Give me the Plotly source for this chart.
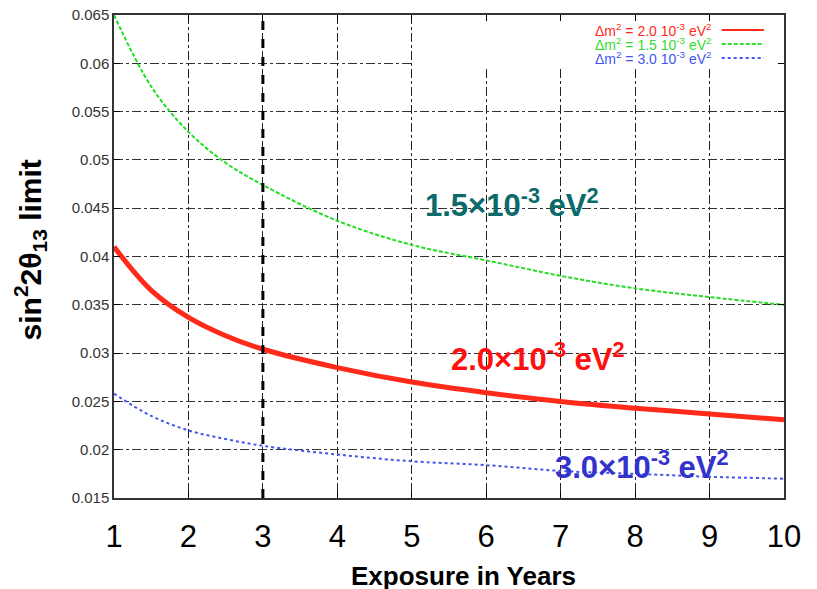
import plotly.graph_objects as go

# exposure (years) and sin^2 2theta13 limits
years = [1, 1.5, 2, 2.5, 3, 4, 5, 6, 7, 8, 9, 10]
limit_2p0 = [0.0410, 0.0365, 0.0337, 0.0318, 0.0304, 0.0285, 0.0270, 0.0259, 0.0250, 0.0243, 0.0237, 0.0231]
limit_1p5 = [0.0650, 0.0576, 0.0529, 0.0497, 0.0474, 0.0437, 0.0412, 0.0396, 0.0380, 0.0367, 0.0358, 0.0350]
limit_3p0 = [0.0258, 0.0235, 0.0220, 0.0211, 0.0204, 0.0195, 0.0188, 0.0184, 0.0178, 0.0175, 0.0172, 0.0170]

x_ticks = list(range(1, 11))
y_tickvals = [0.015, 0.02, 0.025, 0.03, 0.035, 0.04, 0.045, 0.05, 0.055, 0.06, 0.065]
y_ticktext = ['0.015', '0.02', '0.025', '0.03', '0.035', '0.04', '0.045', '0.05', '0.055', '0.06', '0.065']
marker_year = 3

legend_labels = ['Δm<sup>2</sup> = 2.0 10<sup>-3</sup> eV<sup>2</sup>',
                 'Δm<sup>2</sup> = 1.5 10<sup>-3</sup> eV<sup>2</sup>',
                 'Δm<sup>2</sup> = 3.0 10<sup>-3</sup> eV<sup>2</sup>']

FONT = 'Arial, Liberation Sans, sans-serif'
RED = '#ff2a1a'
GREEN = '#22dd22'
BLUE = '#4455ee'

fig = go.Figure()
fig.add_trace(go.Scatter(x=years, y=limit_1p5, mode='lines', line_shape='spline',
                         line=dict(color=GREEN, width=2, dash='4px,2px')))
fig.add_trace(go.Scatter(x=years, y=limit_3p0, mode='lines', line_shape='spline',
                         line=dict(color=BLUE, width=2, dash='dot')))
fig.add_trace(go.Scatter(x=years, y=limit_2p0, mode='lines', line_shape='spline',
                         line=dict(color=RED, width=5)))

# thick dashed marker at 3 years
fig.add_vline(x=marker_year, line=dict(color='black', width=3, dash='dash'))

# white legend box hiding the grid
fig.add_shape(type='rect', xref='x', yref='y', x0=5.02, x1=10, y0=0.0597, y1=0.065,
              fillcolor='white', line_width=0, layer='between')

legend_colors = [RED, '#33dd33', '#4455ee']
legend_dash = ['solid', '4px,2px', 'dot']
legend_y = [0.969, 0.940, 0.911]
for lab, col, dsh, yy in zip(legend_labels, legend_colors, legend_dash, legend_y):
    fig.add_annotation(xref='paper', yref='paper', x=0.895, y=yy, text=lab, showarrow=False,
                       xanchor='right', yanchor='middle', font=dict(family=FONT, size=14, color=col))
    fig.add_shape(type='line', xref='paper', yref='paper', x0=0.907, x1=0.970, y0=yy, y1=yy,
                  line=dict(color=col, width=2, dash=dsh))

# curve labels
fig.add_annotation(x=6.34, y=0.0455, text='<b>1.5×10<sup>-3</sup> eV<sup>2</sup></b>', showarrow=False,
                   font=dict(family=FONT, size=31, color='#0b6b6b'))
fig.add_annotation(x=6.70, y=0.0296, text='<b>2.0×10<sup>-3</sup> eV<sup>2</sup></b>', showarrow=False,
                   font=dict(family=FONT, size=31, color='#ff1010'))
fig.add_annotation(x=8.09, y=0.0184, text='<b>3.0×10<sup>-3</sup> eV<sup>2</sup></b>', showarrow=False,
                   font=dict(family=FONT, size=31, color='#3333cc'))

# axis titles
fig.add_annotation(xref='paper', yref='paper', x=-0.125, y=0.513, textangle=-90, showarrow=False,
                   xanchor='center', yanchor='middle',
                   text='<b>sin<sup>2</sup>2θ<sub>13</sub> limit</b>',
                   font=dict(family=FONT, size=30, color='black'))
fig.add_annotation(xref='paper', yref='paper', x=0.521, y=-0.162, showarrow=False,
                   xanchor='center', yanchor='middle',
                   text='<b>Exposure in Years</b>', font=dict(family=FONT, size=26, color='black'))

fig.update_xaxes(range=[1, 10], tickvals=x_ticks, showgrid=True, gridcolor='#222', gridwidth=1,
                 griddash='dashdot', ticks='inside', ticklen=6, tickcolor='black',
                 showline=True, linecolor='#333', linewidth=1.5, mirror='allticks',
                 zeroline=False, ticklabelstandoff=10, automargin=False,
                 ticklabeloverflow='allow',
                 tickfont=dict(family=FONT, size=31, color='black'))
fig.update_yaxes(range=[0.015, 0.065], tickvals=y_tickvals, ticktext=y_ticktext, showgrid=True,
                 gridcolor='#333', gridwidth=1, griddash='dashdot', ticks='inside', ticklen=6,
                 tickcolor='black', showline=True, linecolor='#333', linewidth=1.5, mirror='allticks',
                 zeroline=False, automargin=False, ticklabeloverflow='allow',
                 tickfont=dict(family=FONT, size=15, color='#333'))

# the page puts the figure 8px in from the window corner; margins account for that
fig.update_layout(width=817, height=589, showlegend=False,
                  margin=dict(l=106, r=41, t=7, b=99),
                  plot_bgcolor='white', paper_bgcolor='white')

fig.write_html("out.html")
